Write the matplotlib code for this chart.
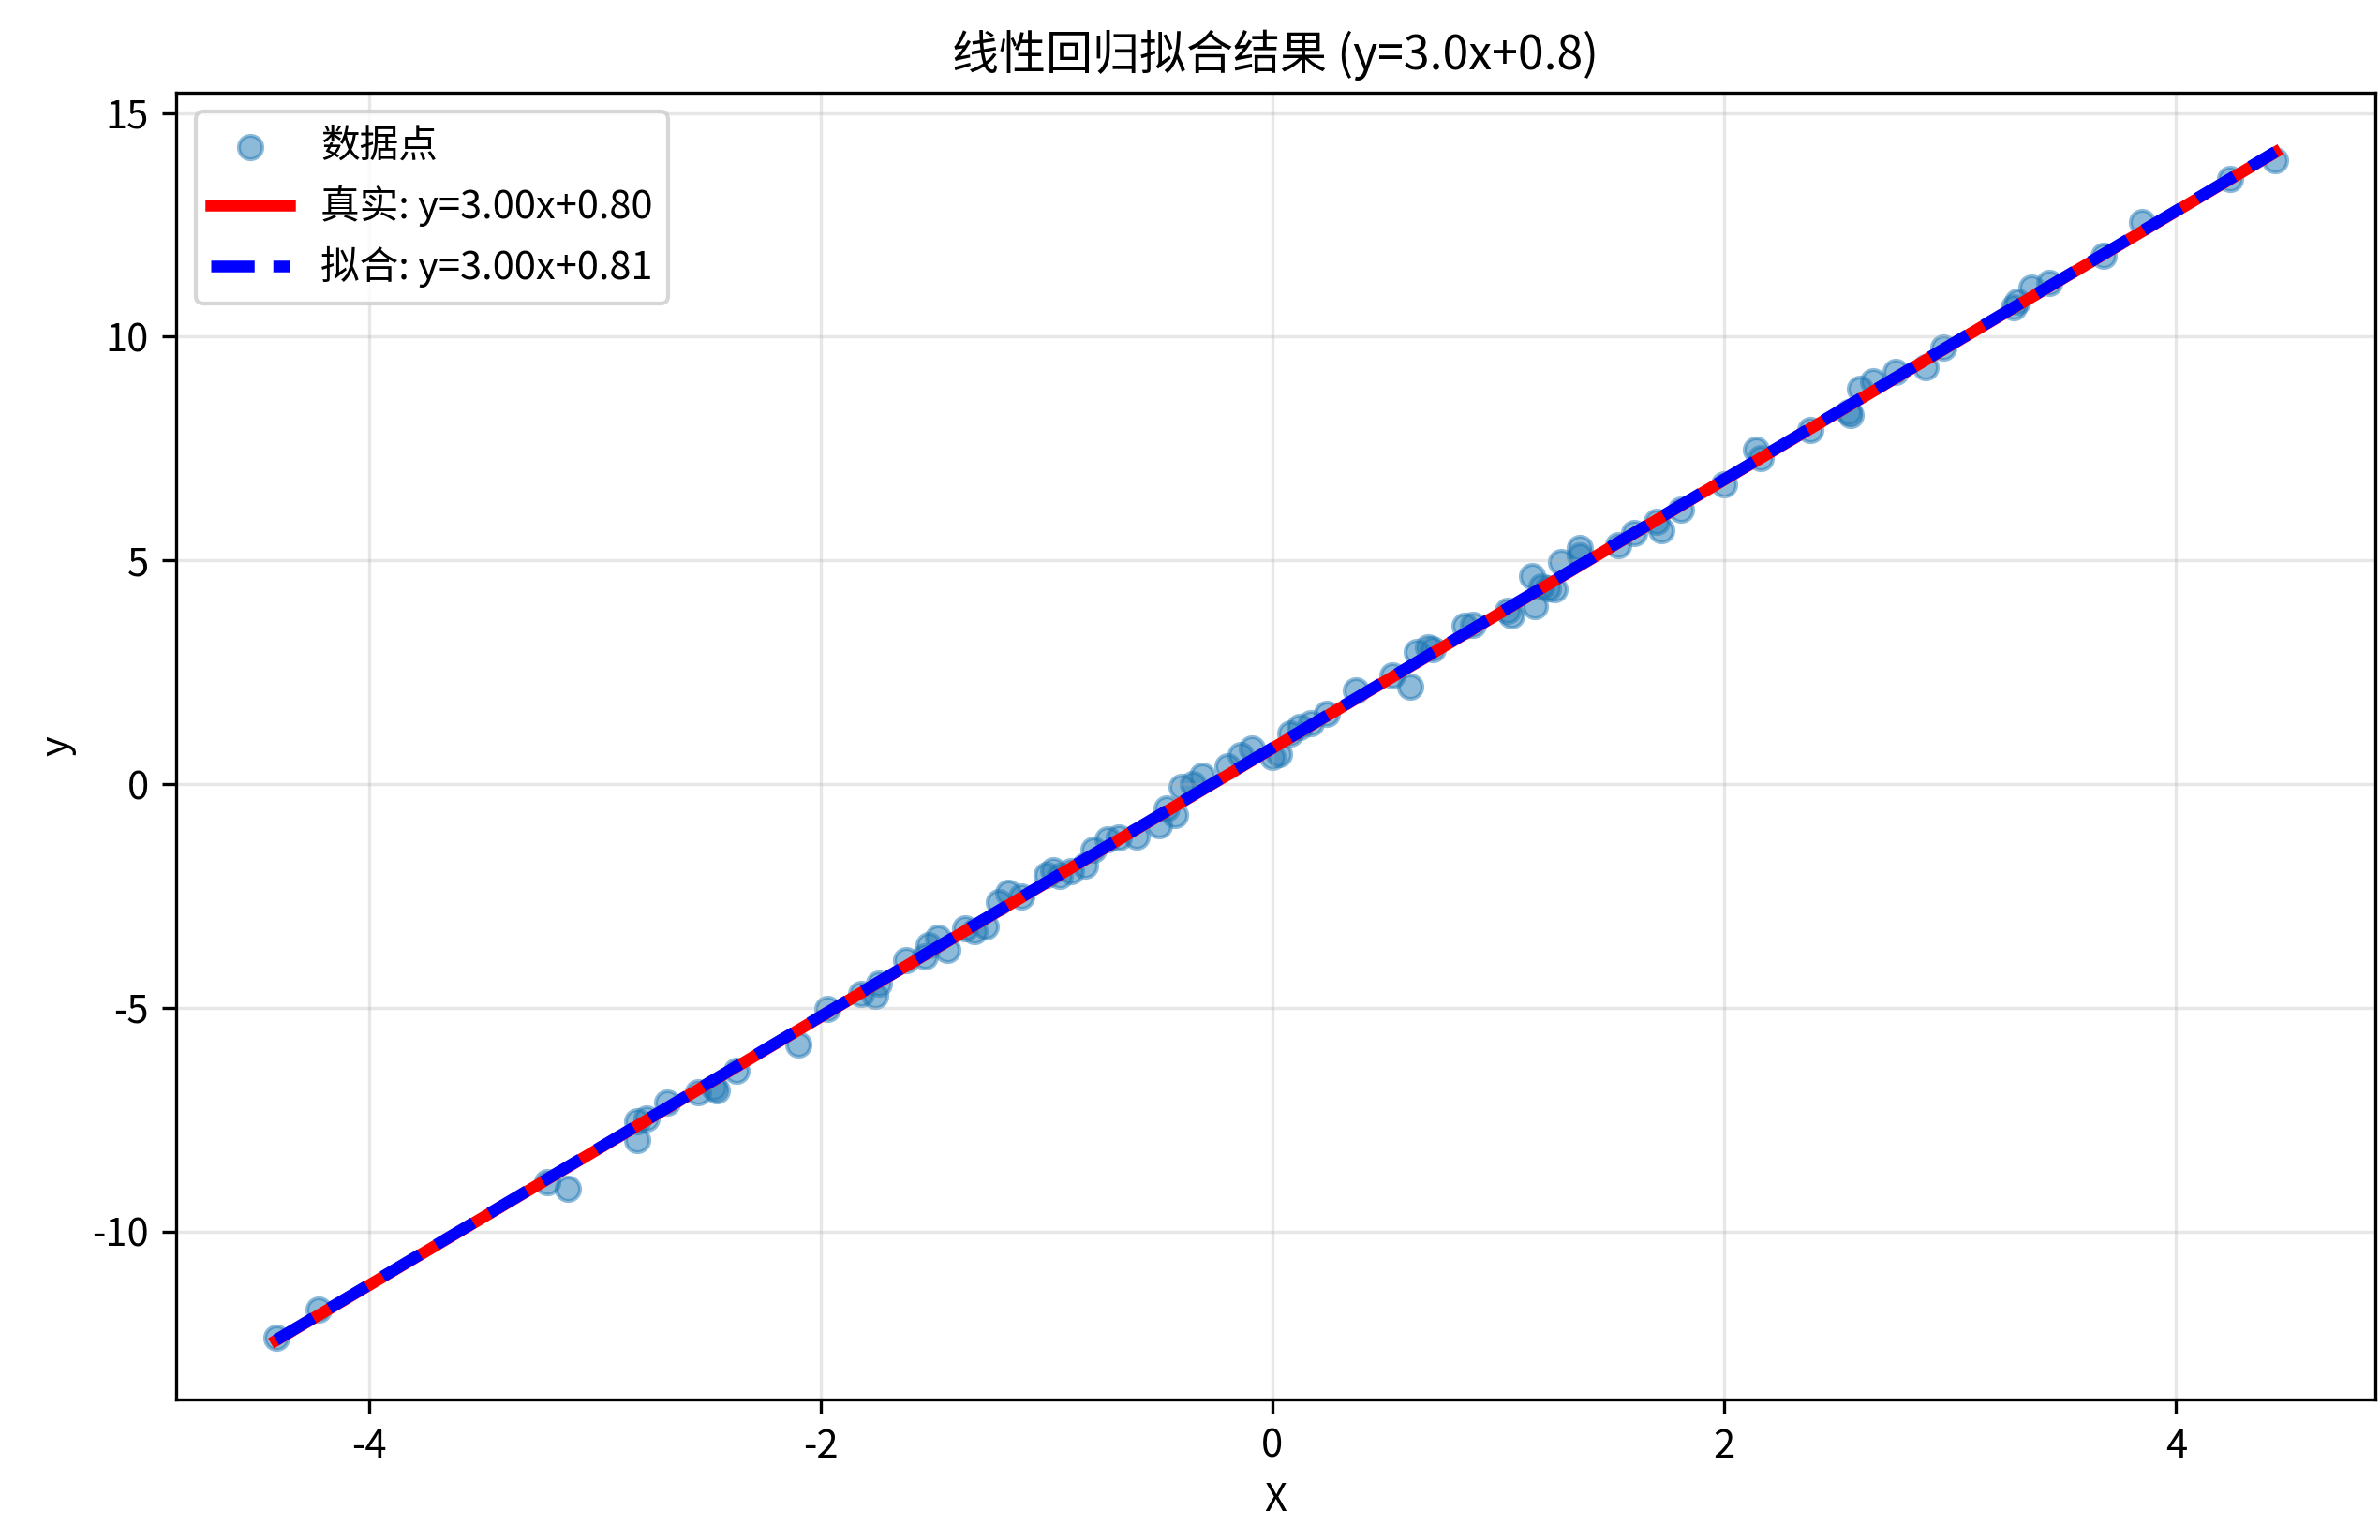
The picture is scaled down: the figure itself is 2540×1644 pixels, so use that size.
import matplotlib
matplotlib.use("Agg")
import matplotlib.pyplot as plt
import numpy as np

plt.rcParams["font.family"] = ["Noto Sans CJK SC", "DejaVu Sans"]
plt.rcParams["axes.unicode_minus"] = False

x_pts = [-4.41, -4.22, -3.21, -3.12, -2.81, -2.81, -2.77, -2.68, -2.54, -2.47,
         -2.46, -2.37, -2.10, -1.97, -1.82, -1.76, -1.74, -1.62, -1.54, -1.52,
         -1.48, -1.44, -1.36, -1.32, -1.27, -1.21, -1.17, -1.11, -1.00, -0.97,
         -0.94, -0.89, -0.83, -0.79, -0.73, -0.68, -0.60, -0.50, -0.47, -0.43,
         -0.40, -0.35, -0.31, -0.20, -0.14, -0.09, 0.00, 0.03, 0.08, 0.12,
         0.17, 0.24, 0.37, 0.53, 0.61, 0.64, 0.69, 0.71, 0.85, 0.89,
         1.04, 1.06, 1.15, 1.16, 1.19, 1.22, 1.25, 1.28, 1.36, 1.36,
         1.53, 1.60, 1.70, 1.72, 1.81, 2.00, 2.14, 2.16, 2.38, 2.55,
         2.56, 2.60, 2.66, 2.76, 2.89, 2.97, 3.28, 3.30, 3.36, 3.44,
         3.68, 3.85, 4.24, 4.44]
y_pts = [-12.36, -11.75, -8.90, -9.04, -7.53, -7.95, -7.47, -7.12, -6.88, -6.78,
         -6.85, -6.40, -5.82, -5.03, -4.69, -4.73, -4.45, -3.94, -3.84, -3.60,
         -3.42, -3.70, -3.22, -3.29, -3.18, -2.64, -2.43, -2.50, -2.02, -1.92,
         -2.05, -1.95, -1.82, -1.47, -1.23, -1.20, -1.16, -0.92, -0.55, -0.68,
         -0.07, 0.00, 0.20, 0.41, 0.65, 0.79, 0.62, 0.68, 1.13, 1.27,
         1.37, 1.58, 2.09, 2.43, 2.19, 2.95, 3.05, 3.01, 3.53, 3.56,
         3.87, 3.77, 4.66, 3.97, 4.42, 4.38, 4.35, 4.97, 5.27, 5.10,
         5.34, 5.62, 5.86, 5.68, 6.13, 6.71, 7.47, 7.29, 7.91, 8.32,
         8.25, 8.84, 9.00, 9.21, 9.32, 9.76, 10.65, 10.79, 11.10, 11.20,
         11.80, 12.57, 13.53, 13.94]

true_slope, true_icpt = 3.0, 0.8
fit_slope, fit_icpt = 3.0, 0.81

x_line = np.array([min(x_pts), max(x_pts)])

fig, ax = plt.subplots(figsize=(8.467, 5.48), dpi=300)
fig.subplots_adjust(left=0.074, right=0.998, top=0.940, bottom=0.091)

ax.scatter(x_pts, y_pts, alpha=0.5, label="数据点")
ax.plot(x_line, true_slope * x_line + true_icpt, "r-", lw=3,
        label=f"真实: y={true_slope:.2f}x+{true_icpt:.2f}")
ax.plot(x_line, fit_slope * x_line + fit_icpt, "b--", lw=3,
        label=f"拟合: y={fit_slope:.2f}x+{fit_icpt:.2f}")

ax.set_xlabel("X")
ax.set_ylabel("y")
ax.set_title("线性回归拟合结果 (y=3.0x+0.8)")
ax.legend(loc="upper left")
ax.grid(True, alpha=0.3)

fig.savefig("out.png", dpi=300)
